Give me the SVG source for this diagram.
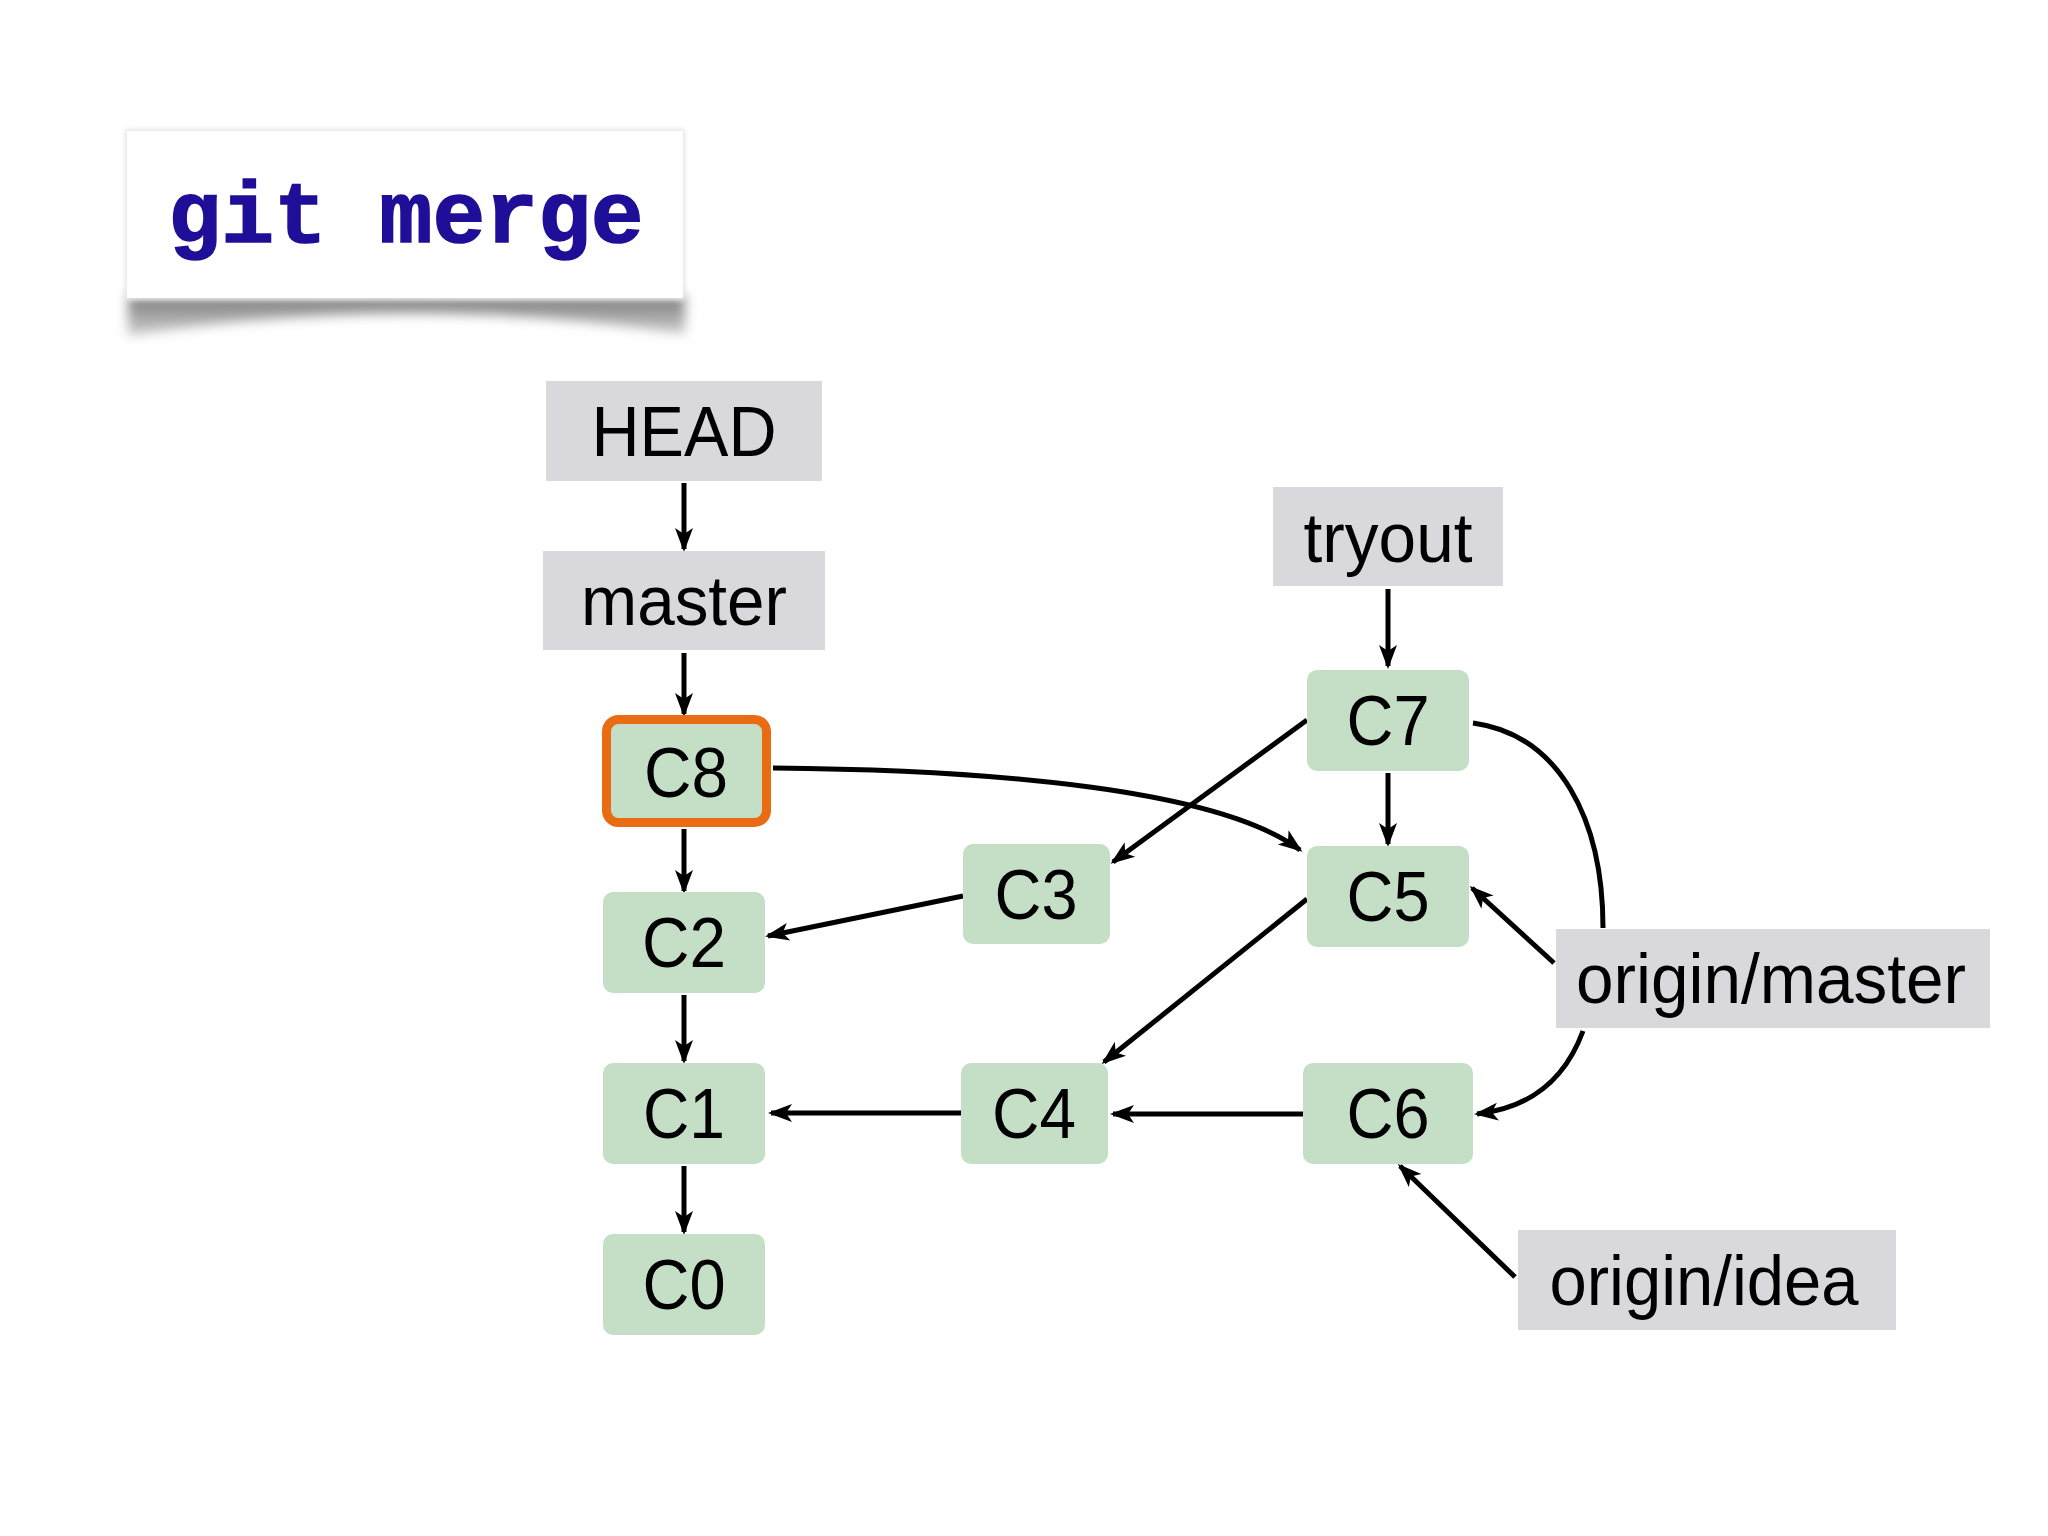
<svg xmlns="http://www.w3.org/2000/svg" width="2048" height="1536" viewBox="0 0 2048 1536">
<defs>
<style>
.lbl{fill:#d9d8dc}
.cm{fill:#c4dfc6}
.t{font-family:"Liberation Sans",Arial,sans-serif;font-size:70px;fill:#000;text-anchor:middle}
.e{fill:none;stroke:#000;stroke-width:5}
.a{marker-end:url(#ah)}
</style>
<marker id="ah" markerUnits="userSpaceOnUse" markerWidth="26" markerHeight="20" refX="21" refY="9" orient="auto" viewBox="0 0 26 18">
<path d="M0,0 L24,9 L0,18 L6,9 Z" fill="#000"/>
</marker>
<filter id="blur" x="-10%" y="-50%" width="120%" height="200%"><feGaussianBlur stdDeviation="6"/></filter>
<filter id="soft" x="-5%" y="-10%" width="110%" height="120%"><feGaussianBlur stdDeviation="2"/></filter>
<linearGradient id="sg" x1="0" y1="0" x2="0" y2="1"><stop offset="0" stop-color="#7a7a7a"/><stop offset="1" stop-color="#d0d0d0"/></linearGradient>
</defs>
<rect width="2048" height="1536" fill="#fff"/>
<g id="title">
<path d="M128,296 L685,296 L685,334 Q405,292 128,336 Z" fill="url(#sg)" filter="url(#blur)"/>
<rect x="125" y="129" width="560" height="171" fill="#e6e6e6" filter="url(#soft)"/>
<rect x="127" y="131" width="556" height="167" fill="#fff"/>
<text x="406" y="242" text-anchor="middle" font-family="'Liberation Mono','Courier New',monospace" font-weight="bold" font-size="88" fill="#1f0e98" stroke="#1f0e98" stroke-width="1.5">git merge</text>
</g>
<g id="connectors">
<line class="e a" x1="684" y1="483" x2="684" y2="549"/>
<line class="e a" x1="684" y1="653" x2="684" y2="714"/>
<line class="e a" x1="684" y1="829" x2="684" y2="891"/>
<line class="e a" x1="684" y1="995" x2="684" y2="1061"/>
<line class="e a" x1="684" y1="1166" x2="684" y2="1232"/>
<line class="e a" x1="963" y1="896" x2="768" y2="936"/>
<line class="e a" x1="961" y1="1113" x2="771" y2="1113"/>
<line class="e a" x1="1303" y1="1114" x2="1113" y2="1114"/>
<line class="e a" x1="1307" y1="720" x2="1113" y2="862"/>
<line class="e a" x1="1307" y1="899" x2="1104" y2="1062"/>
<line class="e a" x1="1388" y1="773" x2="1388" y2="844"/>
<line class="e a" x1="1388" y1="589" x2="1388" y2="666"/>
<path class="e a" d="M773,768 C1000,770 1220,790 1300,850"/>
<line class="e a" x1="1554" y1="963" x2="1472" y2="888"/>
<path class="e" d="M1473,723 C1560,735 1603,820 1603,928"/>
<path class="e a" d="M1583,1031 C1565,1080 1530,1108 1477,1114"/>
<line class="e a" x1="1515" y1="1277" x2="1400" y2="1166"/>
</g>
<g id="HEAD"><rect class="lbl" x="546" y="381" width="276" height="100"/><text class="t" x="684" y="456" textLength="185" lengthAdjust="spacingAndGlyphs">HEAD</text></g>
<g id="master"><rect class="lbl" x="543" y="551" width="282" height="99"/><text class="t" x="684" y="625" textLength="206" lengthAdjust="spacingAndGlyphs">master</text></g>
<g id="tryout"><rect class="lbl" x="1273" y="487" width="230" height="99"/><text class="t" x="1388" y="562" textLength="169" lengthAdjust="spacingAndGlyphs">tryout</text></g>
<g id="origin-master"><rect class="lbl" x="1556" y="929" width="434" height="99"/><text class="t" x="1771" y="1003" textLength="390" lengthAdjust="spacingAndGlyphs">origin/master</text></g>
<g id="origin-idea"><rect class="lbl" x="1518" y="1230" width="378" height="100"/><text class="t" x="1704" y="1305" textLength="309" lengthAdjust="spacingAndGlyphs">origin/idea</text></g>
<g id="C8"><rect class="cm" x="606.5" y="719.5" width="160" height="103" rx="12" stroke="#e96c12" stroke-width="9"/><text class="t" x="686" y="797" textLength="84" lengthAdjust="spacingAndGlyphs">C8</text></g>
<g id="C2"><rect class="cm" x="603" y="892" width="162" height="101" rx="10"/><text class="t" x="684" y="967" textLength="84" lengthAdjust="spacingAndGlyphs">C2</text></g>
<g id="C1"><rect class="cm" x="603" y="1063" width="162" height="101" rx="10"/><text class="t" x="684" y="1138" textLength="82" lengthAdjust="spacingAndGlyphs">C1</text></g>
<g id="C0"><rect class="cm" x="603" y="1234" width="162" height="101" rx="10"/><text class="t" x="684" y="1309" textLength="83" lengthAdjust="spacingAndGlyphs">C0</text></g>
<g id="C3"><rect class="cm" x="963" y="844" width="147" height="100" rx="10"/><text class="t" x="1036" y="919" textLength="83" lengthAdjust="spacingAndGlyphs">C3</text></g>
<g id="C4"><rect class="cm" x="961" y="1063" width="147" height="101" rx="10"/><text class="t" x="1034" y="1138" textLength="84" lengthAdjust="spacingAndGlyphs">C4</text></g>
<g id="C7"><rect class="cm" x="1307" y="670" width="162" height="101" rx="10"/><text class="t" x="1388" y="745" textLength="83" lengthAdjust="spacingAndGlyphs">C7</text></g>
<g id="C5"><rect class="cm" x="1307" y="846" width="162" height="101" rx="10"/><text class="t" x="1388" y="921" textLength="83" lengthAdjust="spacingAndGlyphs">C5</text></g>
<g id="C6"><rect class="cm" x="1303" y="1063" width="170" height="101" rx="10"/><text class="t" x="1388" y="1138" textLength="83" lengthAdjust="spacingAndGlyphs">C6</text></g>
</svg>
